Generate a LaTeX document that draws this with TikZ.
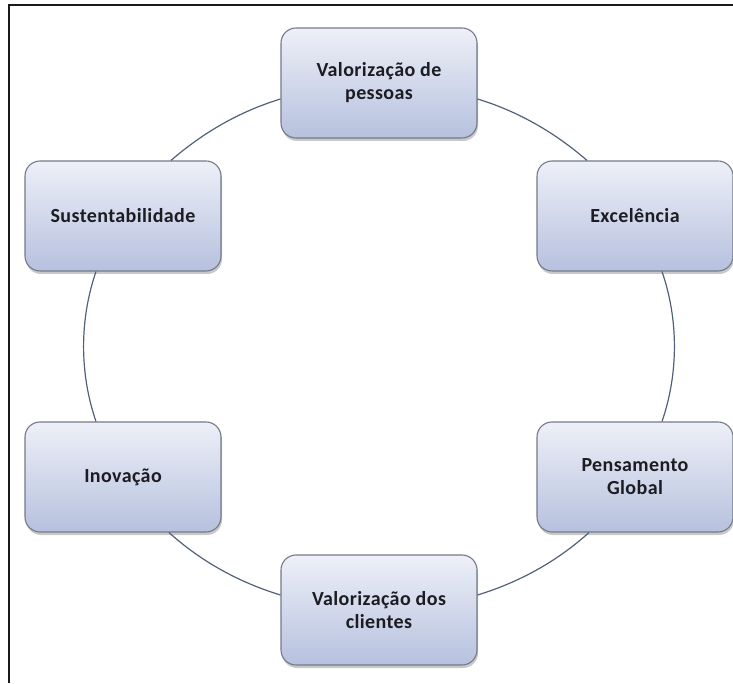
\documentclass[tikz,border=0pt]{standalone}
\usepackage{fontspec}
\setmainfont{Carlito}
\newfontfamily\boxfont[LetterSpace=2]{Carlito}
\usetikzlibrary{shadows}
\definecolor{CyFrame}{HTML}{1A1A1A}
\definecolor{CyRing}{HTML}{52607A}
\definecolor{CyEdge}{HTML}{737A88}
\definecolor{CyTop}{HTML}{EEF0F8}
\definecolor{CyBottom}{HTML}{B6C1DE}
\definecolor{CyText}{HTML}{1C1C22}
\tikzset{
  valuebox/.style={draw=CyEdge,line width=1.1pt,top color=CyTop,bottom color=CyBottom,
                   rounded corners=15pt,minimum width=196pt,minimum height=110pt,
                   text=CyText,align=center,inner sep=2pt,
                   font=\boxfont\fontsize{20}{23}\selectfont\bfseries,
                   drop shadow={shadow xshift=1pt,shadow yshift=-3pt,opacity=.3,fill=black!70}},
  ring/.style={CyRing,line width=1.2pt,looseness=.87},
}

\begin{document}
\begin{tikzpicture}[x=1pt,y=1pt]
    \useasboundingbox (0,0) rectangle (733,683);
    % frame, only top and left edges are visible
    \draw[CyFrame,line width=2pt] (9,0)--(9,677.5)--(733,677.5);

    % --- the six values around the cycle ---
    \node[valuebox] (pessoas)    at (379,600) {Valorização de\\pessoas};
    \node[valuebox] (excelencia) at (635,467) {Excelência};
    \node[valuebox] (global)     at (635,206) {Pensamento\\Global};
    \node[valuebox] (clientes)   at (379,73)  {Valorização dos\\clientes};
    \node[valuebox] (inovacao)   at (123,206) {Inovação};
    \node[valuebox] (sustent)    at (123,467) {Sustentabilidade};

    % --- ring (follows an ellipse, clockwise) ---
    \draw[ring] ([yshift=-16pt]pessoas.east) to[out=-17,in=139] ([xshift=-48pt]excelencia.north);
    \draw[ring] ([xshift=27pt]excelencia.south) to[out=-71,in=71] ([xshift=27pt]global.north);
    \draw[ring] ([xshift=-46pt]global.south) to[out=-138,in=17] ([yshift=15pt]clientes.east);
    \draw[ring] ([yshift=15pt]clientes.west) to[out=163,in=-42] ([xshift=46pt]inovacao.south);
    \draw[ring] ([xshift=-27pt]inovacao.north) to[out=109,in=-109] ([xshift=-27pt]sustent.south);
    \draw[ring] ([xshift=48pt]sustent.north) to[out=41,in=-163] ([yshift=-16pt]pessoas.west);
\end{tikzpicture}
\end{document}
